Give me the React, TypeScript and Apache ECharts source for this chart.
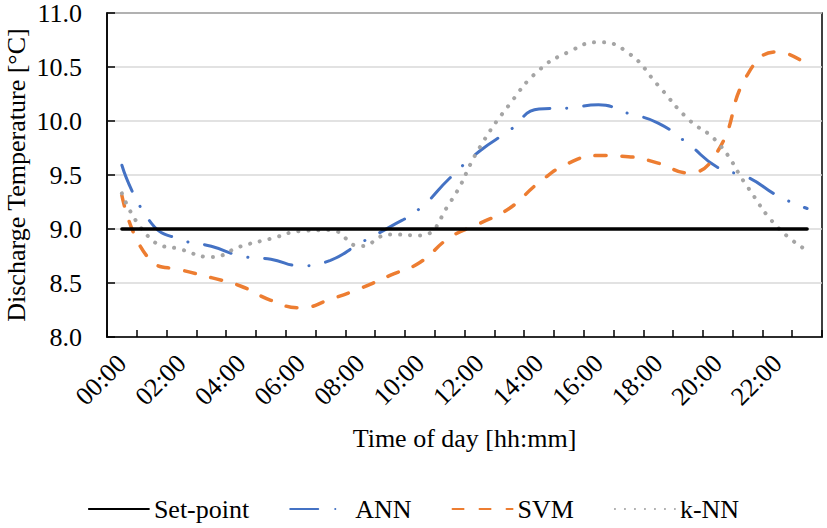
import React, { useEffect, useRef } from "react";
import * as echarts from "echarts";

const hours: string[] = [
  "00:00", "01:00", "02:00", "03:00", "04:00", "05:00", "06:00", "07:00",
  "08:00", "09:00", "10:00", "11:00", "12:00", "13:00", "14:00", "15:00",
  "16:00", "17:00", "18:00", "19:00", "20:00", "21:00", "22:00", "23:00",
];

const setPoint: number[] = hours.map(() => 9.0);

const ann: number[] = [
  9.59, 9.05, 8.9, 8.84, 8.75, 8.72, 8.66, 8.71, 8.87, 9.02, 9.19, 9.47,
  9.72, 9.91, 10.11, 10.12, 10.15, 10.07, 9.98, 9.79, 9.57, 9.48, 9.31, 9.19,
];

const svm: number[] = [
  9.31, 8.7, 8.62, 8.55, 8.47, 8.34, 8.27, 8.35, 8.45, 8.57, 8.69, 8.92,
  9.05, 9.19, 9.43, 9.61, 9.68, 9.67, 9.61, 9.52, 9.72, 10.43, 10.64, 10.52,
];

const knn: number[] = [
  9.33, 8.9, 8.81, 8.74, 8.84, 8.91, 8.98, 8.99, 8.84, 8.95, 8.94, 9.24,
  9.75, 10.15, 10.47, 10.64, 10.73, 10.63, 10.33, 10.02, 9.8, 9.39, 9.02, 8.8,
];

const yMin = 8;
const yMax = 11;
const yStep = 0.5;

const FONT = "Liberation Serif";

export default function App() {
  const ref = useRef<HTMLDivElement>(null);

  useEffect(() => {
    if (!ref.current) return;
    const chart = echarts.init(ref.current, null, { renderer: "svg" });
    const textBase = { fontFamily: FONT, color: "#000", fontSize: 26 };
    chart.setOption({
      animation: false,
      backgroundColor: "#fff",
      textStyle: { fontFamily: FONT, color: "#000" },
      grid: {
        left: 107,
        right: 5,
        top: 13,
        bottom: 191,
        show: true,
        borderColor: "#000",
        borderWidth: 1.5,
        containLabel: false,
        outerBoundsMode: "none",
      },
      legend: {
        bottom: 1,
        left: "center",
        itemWidth: 60,
        itemHeight: 14,
        itemGap: 40,
        selectedMode: false,
        itemStyle: { opacity: 0 },
        textStyle: { ...textBase },
        data: ["Set-point", "ANN", "SVM", "k-NN"],
      },
      xAxis: {
        type: "category",
        data: hours,
        boundaryGap: true,
        name: "Time of day [hh:mm]",
        nameLocation: "middle",
        nameGap: 88,
        nameTextStyle: { ...textBase },
        axisLine: { show: true, lineStyle: { color: "#000", width: 1.5 } },
        axisTick: {
          show: true,
          inside: true,
          length: 7,
          interval: 0,
          lineStyle: { color: "#000", width: 1.5 },
        },
        axisLabel: {
          ...textBase,
          interval: 1,
          rotate: 45,
          margin: 22,
        },
        splitLine: { show: false },
      },
      yAxis: {
        type: "value",
        min: yMin,
        max: yMax,
        interval: yStep,
        name: "Discharge Temperature [°C]",
        nameLocation: "middle",
        nameGap: 78,
        nameMoveOverlap: false,
        nameTextStyle: { ...textBase },
        axisLine: { show: true, lineStyle: { color: "#000", width: 1.5 } },
        axisTick: {
          show: true,
          inside: true,
          length: 8,
          lineStyle: { color: "#000", width: 1.5 },
        },
        axisLabel: {
          ...textBase,
          margin: 25,
          formatter: (v: number) => v.toFixed(1),
        },
        splitLine: { show: true, lineStyle: { color: "#d9d9d9", width: 1.5 } },
      },
      series: [
        {
          name: "Set-point",
          type: "line",
          data: setPoint,
          symbol: "none",
          z: 5,
          lineStyle: { color: "#000", width: 3.5, cap: "round" },
          itemStyle: { color: "#000" },
        },
        {
          name: "ANN",
          type: "line",
          data: ann,
          smooth: true,
          symbol: "none",
          lineStyle: {
            color: "#4472C4",
            width: 3,
            type: [28, 17, 0.1, 17],
            cap: "round",
          },
          itemStyle: { color: "#4472C4" },
        },
        {
          name: "SVM",
          type: "line",
          data: svm,
          smooth: true,
          symbol: "none",
          lineStyle: {
            color: "#ED7D31",
            width: 3.5,
            type: [11, 16],
            cap: "round",
          },
          itemStyle: { color: "#ED7D31" },
        },
        {
          name: "k-NN",
          type: "line",
          data: knn,
          smooth: true,
          symbol: "none",
          lineStyle: {
            color: "#A5A5A5",
            width: 4,
            type: [0.1, 9.9],
            cap: "round",
          },
          itemStyle: { color: "#A5A5A5" },
        },
      ],
    });
    return () => chart.dispose();
  }, []);

  return (
    <div
      ref={ref}
      style={{ position: "fixed", left: 0, top: 0, width: 827, height: 528, background: "#fff" }}
    />
  );
}
